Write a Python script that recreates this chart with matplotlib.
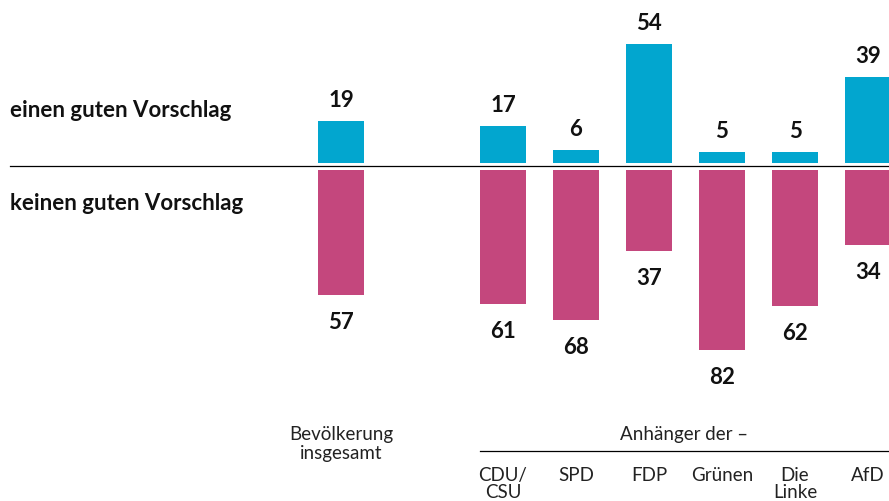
import matplotlib
matplotlib.use("Agg")
import matplotlib.pyplot as plt

# values in percent
groups = ["Bevölkerung\ninsgesamt", "CDU/\nCSU", "SPD", "FDP", "Grünen", "Die\nLinke", "AfD"]
guter_vorschlag = [19, 17, 6, 54, 5, 5, 39]
kein_guter_vorschlag = [57, 61, 68, 37, 82, 62, 34]
row_labels = ["einen guten Vorschlag", "keinen guten Vorschlag"]
party_header = "Anhänger der –"

BLUE = "#02a6cf"
PINK = "#c4477d"

plt.rcParams["font.family"] = ["Lato", "DejaVu Sans"]

W, H = 889, 502
fig = plt.figure(figsize=(W / 100, H / 100), dpi=100)
ax = fig.add_axes([0, 0, 1, 1])
ax.axis("off")

# layout: 73 px per slot, 2.2 px per percent, zero line at 167 px from top
slot_px = 73.0
unit_px = 2.2
zero_row = 167
x_left = -341 / slot_px
ax.set_xlim(x_left, x_left + W / slot_px)
ax.set_ylim(-(H - zero_row) / unit_px, zero_row / unit_px)


def px_x(px):
    return x_left + px / slot_px


def px_y(px):
    return (zero_row - px) / unit_px


xs = [0.0] + [162 / slot_px + i for i in range(len(groups) - 1)]
bw = 46 / slot_px
gap_up = 3 / unit_px
gap_down = 4 / unit_px

ax.bar(xs, guter_vorschlag, width=bw, bottom=gap_up, color=BLUE, linewidth=0)
ax.bar(xs, [-v for v in kein_guter_vorschlag], width=bw, bottom=-gap_down,
       color=PINK, linewidth=0)

for x, v in zip(xs, guter_vorschlag):
    ax.text(x, v + gap_up + 15 / unit_px, str(v), ha="center", va="baseline",
            fontsize=16, fontweight="bold", color="#111111")
for x, v in zip(xs, kein_guter_vorschlag):
    ax.text(x, -v - gap_down - 33 / unit_px, str(v), ha="center", va="baseline",
            fontsize=16, fontweight="bold", color="#111111")

# zero line
ax.plot([px_x(10), px_x(W)], [0, 0], color="black", lw=0.9)

# row labels
ax.text(px_x(10), px_y(117), row_labels[0], ha="left", va="baseline",
        fontsize=16, fontweight="bold", color="#111111")
ax.text(px_x(10), px_y(210), row_labels[1], ha="left", va="baseline",
        fontsize=16, fontweight="bold", color="#111111")

# group labels
ax.text(xs[0], px_y(426), groups[0], ha="center", va="top",
        fontsize=13.5, color="#222222", linespacing=1.12)
ax.text((px_x(480) + px_x(W)) / 2, px_y(440), party_header, ha="center",
        va="baseline", fontsize=13.5, color="#222222")
ax.plot([px_x(480), px_x(W)], [px_y(452), px_y(452)], color="black", lw=0.9)
for x, g in zip(xs[1:], groups[1:]):
    ax.text(x, px_y(467), g, ha="center", va="top", fontsize=13.5,
            color="#222222", linespacing=1.0)

fig.savefig("out.png", dpi=100)
